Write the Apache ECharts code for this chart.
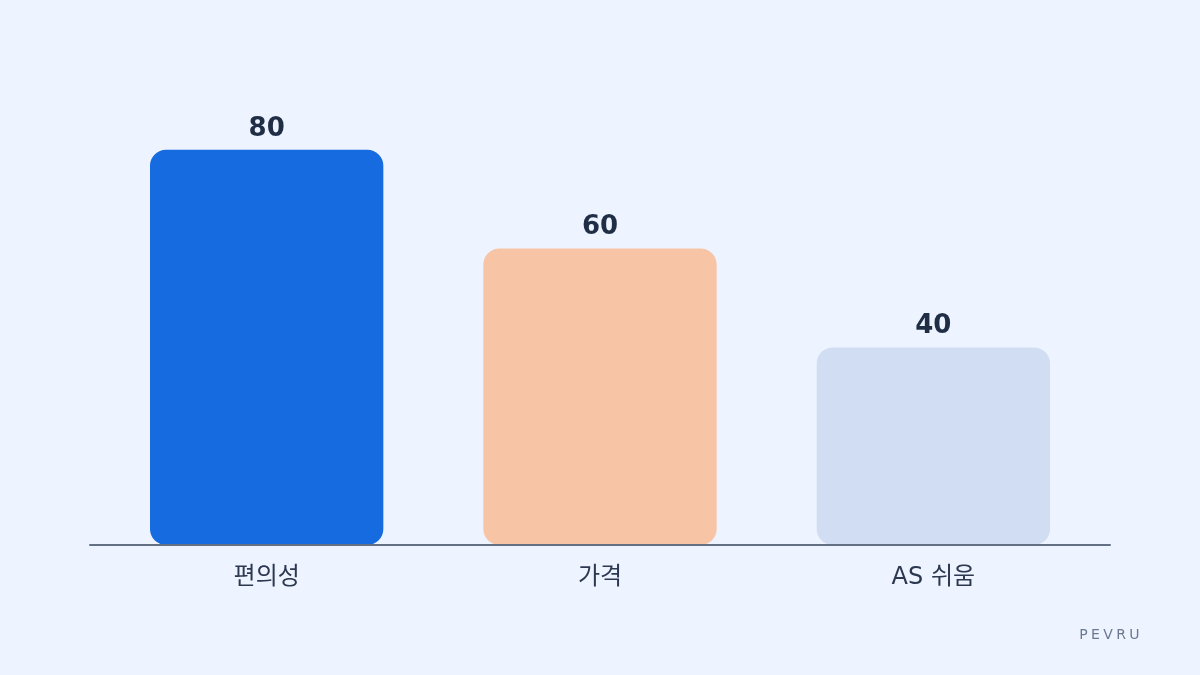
<!DOCTYPE html>
<html lang="ko">
<head>
    <meta charset="UTF-8">
    <title>편의성 · 가격 · AS 쉬움</title>
    <script src="https://cdn.jsdelivr.net/npm/echarts@6.0.0/dist/echarts.min.js"></script>
    <style>
        html, body {
            margin: 0;
            padding: 0;
            background: #eef4ff;
        }
        #chart {
            width: 1200px;
            height: 675px;
        }
        .brand {
            position: absolute;
            right: 57px;
            top: 626px;
            font-family: "DejaVu Sans", sans-serif;
            font-size: 14px;
            letter-spacing: 3.4px;
            color: #6b7890;
        }
    </style>
</head>
<body>
    <div id="chart"></div>
    <div class="brand">PEVRU</div>

    <script>
        // 데이터
        const categories = ['편의성', '가격', 'AS 쉬움'];
        const values = [80, 60, 40];
        const barColors = ['#176be0', '#f7c4a5', '#d0ddf3'];

        const chart = echarts.init(document.getElementById('chart'));

        const option = {
            backgroundColor: '#eef4ff',
            grid: [
                // 막대 영역
                { left: 100, right: 100, top: 51, bottom: 130 },
                // 기준선이 조금 더 넓게 뻗음
                { left: 90, right: 90, top: 51, bottom: 130 }
            ],
            xAxis: [{
                type: 'category',
                gridIndex: 0,
                data: categories,
                axisTick: { show: false },
                axisLine: { show: false },
                axisLabel: {
                    margin: 21,
                    fontSize: 24,
                    color: '#2b3850',
                    fontFamily: '"DejaVu Sans", "Noto Sans CJK KR", sans-serif'
                }
            }, {
                type: 'value',
                gridIndex: 1,
                axisTick: { show: false },
                axisLabel: { show: false },
                splitLine: { show: false },
                axisLine: {
                    show: true,
                    lineStyle: { color: '#667085', width: 2 }
                },
                z: 5
            }],
            yAxis: [{
                type: 'value',
                gridIndex: 0,
                min: 0,
                max: 100,
                show: false
            }, {
                type: 'value',
                gridIndex: 1,
                show: false
            }],
            series: [{
                type: 'bar',
                xAxisIndex: 0,
                yAxisIndex: 0,
                barWidth: '70%',
                data: values.map((v, i) => ({
                    value: v,
                    itemStyle: { color: barColors[i] }
                })),
                itemStyle: {
                    borderRadius: 16
                },
                label: {
                    show: true,
                    position: 'top',
                    distance: 8,
                    fontSize: 26,
                    fontWeight: 'bold',
                    color: '#1f2d45',
                    fontFamily: '"DejaVu Sans", sans-serif'
                },
                z: 1
            }]
        };

        chart.setOption(option);
    </script>
</body>
</html>
